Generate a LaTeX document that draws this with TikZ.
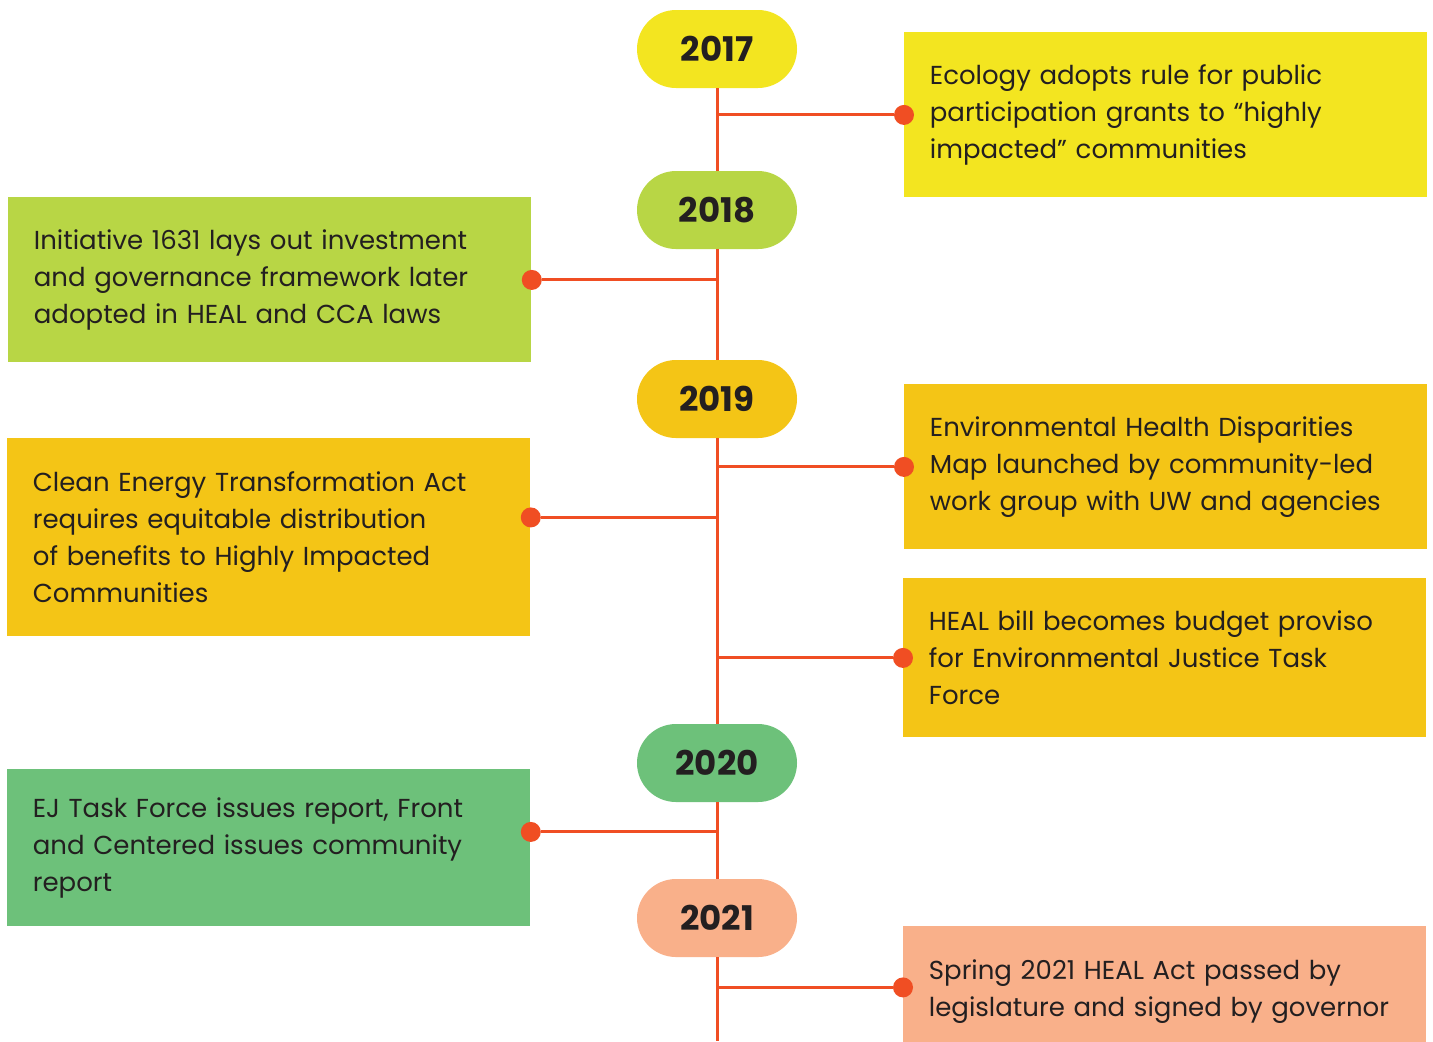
\documentclass[tikz,border=0pt]{standalone}
\usepackage{xcolor}
\usepackage{fontspec}
\setmainfont{Poppins}
\hyphenpenalty=10000

\definecolor{lineRed}{HTML}{F04E23}
\definecolor{ink}{HTML}{231F20}
\definecolor{yrYellow}{HTML}{F3E520}
\definecolor{yrLime}{HTML}{B8D645}
\definecolor{yrGold}{HTML}{F4C516}
\definecolor{yrGreen}{HTML}{6DC17A}
\definecolor{yrPeach}{HTML}{F9B08A}

\begin{document}
\begin{tikzpicture}[x=0.5pt, y=-0.5pt,
    year/.style={rectangle, rounded corners=19.5pt, minimum width=80pt, minimum height=39pt,
        font=\bfseries\fontsize{17}{20}\selectfont, text=ink},
    event/.style={rectangle, anchor=north west, text width=236pt, inner xsep=12.75pt,
        inner ysep=0pt, align=left, text=ink, font=\fontsize{13}{18.5}\selectfont},
    dot/.style={circle, fill=lineRed, inner sep=0pt, minimum size=10pt},
    link/.style={draw=lineRed, line width=1.5pt}]
    \useasboundingbox (0,0) rectangle (1433,1041);

    % years
    \node (y17) [year, fill=yrYellow] at (717,49) {2017};
    \node (y18) [year, fill=yrLime] at (717,210) {2018};
    \node (y19) [year, fill=yrGold] at (717,399) {2019};
    \node (y20) [year, fill=yrGreen] at (717,763) {2020};
    \node (y21) [year, fill=yrPeach] at (717,918) {2021};
    \coordinate (end) at (717,1041);

    \draw[link] (y17.south) -- (y18.north);
    \draw[link] (y18.south) -- (y19.north);
    \draw[link] (y19.south) -- (y20.north);
    \draw[link] (y20.south) -- (y21.north);
    \draw[link] (y21.south) -- (end);

    % events
    \node (e1) [event, fill=yrYellow, minimum height=82.5pt] at (904,32)
        {Ecology adopts rule for public\\participation grants to “highly\\impacted” communities};
    \node (e2) [event, fill=yrLime, minimum height=82.5pt] at (8,197)
        {Initiative 1631 lays out investment\\and governance framework later\\adopted in HEAL and CCA laws};
    \node (e3) [event, fill=yrGold, minimum height=99pt] at (7,438)
        {Clean Energy Transformation Act\\requires equitable distribution\\of benefits to Highly Impacted\\Communities};
    \node (e4) [event, fill=yrGold, minimum height=82.5pt] at (904,384)
        {Environmental Health Disparities\\Map launched by community-led\\work group with UW and agencies};
    \node (e5) [event, fill=yrGold, minimum height=79.5pt] at (903,578)
        {HEAL bill becomes budget proviso\\for Environmental Justice Task\\Force};
    \node (e6) [event, fill=yrGreen, minimum height=78.5pt] at (7,769)
        {EJ Task Force issues report, Front\\and Centered issues community\\report};
    \node (e7) [event, fill=yrPeach, minimum height=65pt] at (903,926)
        {Spring 2021 HEAL Act passed by\\legislature and signed by governor};

    % dots and branches
    \node (d1) [dot] at (e1.west) {};
    \node (d2) [dot] at (e2.east) {};
    \node (d3) [dot] at ([yshift=10pt]e3.east) {};
    \node (d4) [dot] at (e4.west) {};
    \node (d5) [dot] at (e5.west) {};
    \node (d6) [dot] at ([yshift=8pt]e6.east) {};
    \node (d7) [dot] at ([yshift=2pt]e7.west) {};

    \draw[link] (d1) -- (d1 -| y17);
    \draw[link] (d2) -- (d2 -| y18);
    \draw[link] (d3) -- (d3 -| y19);
    \draw[link] (d4) -- (d4 -| y19);
    \draw[link] (d5) -- (d5 -| y19);
    \draw[link] (d6) -- (d6 -| y20);
    \draw[link] (d7) -- (d7 -| y21);
\end{tikzpicture}
\end{document}
